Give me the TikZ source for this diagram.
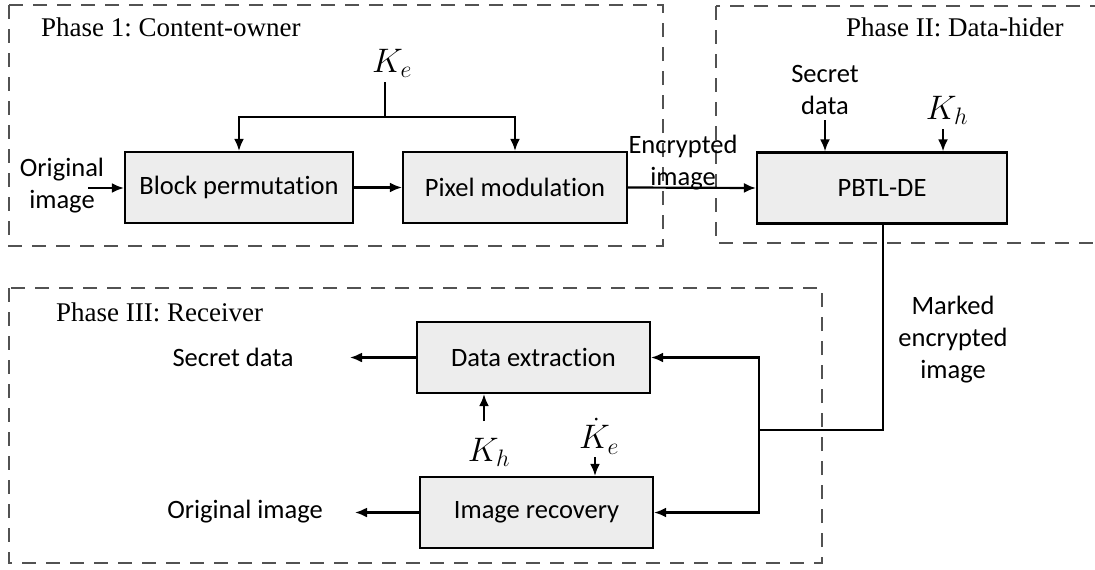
\RequirePackage{fix-cm}
\documentclass[tikz,border=0pt]{standalone}
\usepackage{fontspec}
\setmainfont{Liberation Serif}
\newfontfamily\bodyfont[Ligatures=NoCommon]{Carlito}
\usetikzlibrary{arrows.meta,calc}
\frenchspacing
\tikzset{
  blk/.style={draw=black,line width=2.2pt,fill=black!7,minimum height=71pt,inner sep=0pt,font=\bodyfont\fontsize{26.5}{31}\selectfont},
  lbl/.style={inner sep=0pt,font=\bodyfont\fontsize{26.5}{32}\selectfont,align=center},
  ttl/.style={inner sep=0pt,anchor=west,font=\fontsize{27}{30}\selectfont},
  mth/.style={inner sep=0pt,font=\fontsize{34}{40}\selectfont},
  phase/.style={draw=black!68,line width=2.4pt,dash pattern=on 14pt off 10pt},
  con/.style={draw=black,line width=2.2pt},
  arr/.style={con,-{Latex[length=12pt,width=10pt]}}
}
\begin{document}
\begin{tikzpicture}[x=1pt,y=-1pt]
\useasboundingbox (0,0) rectangle (1095,570);
% phases
\draw[phase] (9,5) rectangle (663,246);
\draw[phase] (716,6) rectangle (1105,243);
\draw[phase] (9,288) rectangle (822,563);
\node[ttl] (t1) at (41,27) {Phase 1: Content-owner};
\node[ttl] (t2) at (846,27) {Phase II: Data-hider};
\node[ttl] (t3) at (56,312) {Phase III: Receiver};
% blocks
\node[blk,minimum width=228pt] (bp) at (239,187.5) {Block permutation};
\node[blk,minimum width=224pt] (pm) at (515,187.5) {Pixel modulation};
\node[blk,minimum width=250pt] (pb) at (882,188) {PBTL-DE};
\node[blk,minimum width=233pt] (de) at (533.5,357.5) {Data extraction};
\node[blk,minimum width=233pt] (ir) at (536.5,512.5) {Image recovery};
% labels
\node[mth] (ke) at (392,63) {$K_e$};
\node[lbl] (oi) at (62,186) {Original\\image};
\node[lbl] (ei) at (683,163) {Encrypted\\image};
\node[lbl] (sd) at (825,90) {Secret\\data};
\node[mth] (kh) at (947,110) {$K_h$};
\node[lbl] (me) at (953,340) {Marked\\encrypted\\image};
\node[lbl] (so) at (233,357) {Secret data};
\node[lbl] (oo) at (245,512) {Original image};
\node[mth] (kh2) at (489,452) {$K_h$};
\node[mth] (ke2) at (599,436) {$\dot K_e$};
% coordinates
\coordinate (kj) at (385,117);
\coordinate (kt) at (385,82);
\coordinate (oin) at (88,188);
\coordinate (sdt) at (825,120);
\coordinate (kht) at (943,129);
\coordinate (mc) at (883,430);
\coordinate (mj) at (759,430);
\coordinate (soe) at (350,357.5);
\coordinate (ooe) at (355,512.5);
\coordinate (kh2t) at (484,421);
\coordinate (ke2t) at (595,457);
% connectors
\draw[con] (kt) -- (kj);
\draw[arr] (kj) -| (bp.north);
\draw[arr] (kj) -| (pm.north);
\draw[arr] (oin) -- (bp.west |- oin);
\draw[arr] (bp) -- (pm);
\draw[arr] (pm.east) -- (pb.west);
\draw[arr] (sdt) -- (sdt |- pb.north);
\draw[arr] (kht) -- (kht |- pb.north);
\draw[con] (pb.south -| mc) -- (mc) -- (mj);
\draw[arr] (mj) |- (de.east);
\draw[arr] (mj) |- (ir.east);
\draw[arr] (de.west) -- (soe);
\draw[arr] (ir.west) -- (ooe);
\draw[arr] (kh2t) -- (kh2t |- de.south);
\draw[arr] (ke2t) -- (ke2t |- ir.north);
\end{tikzpicture}
\end{document}
